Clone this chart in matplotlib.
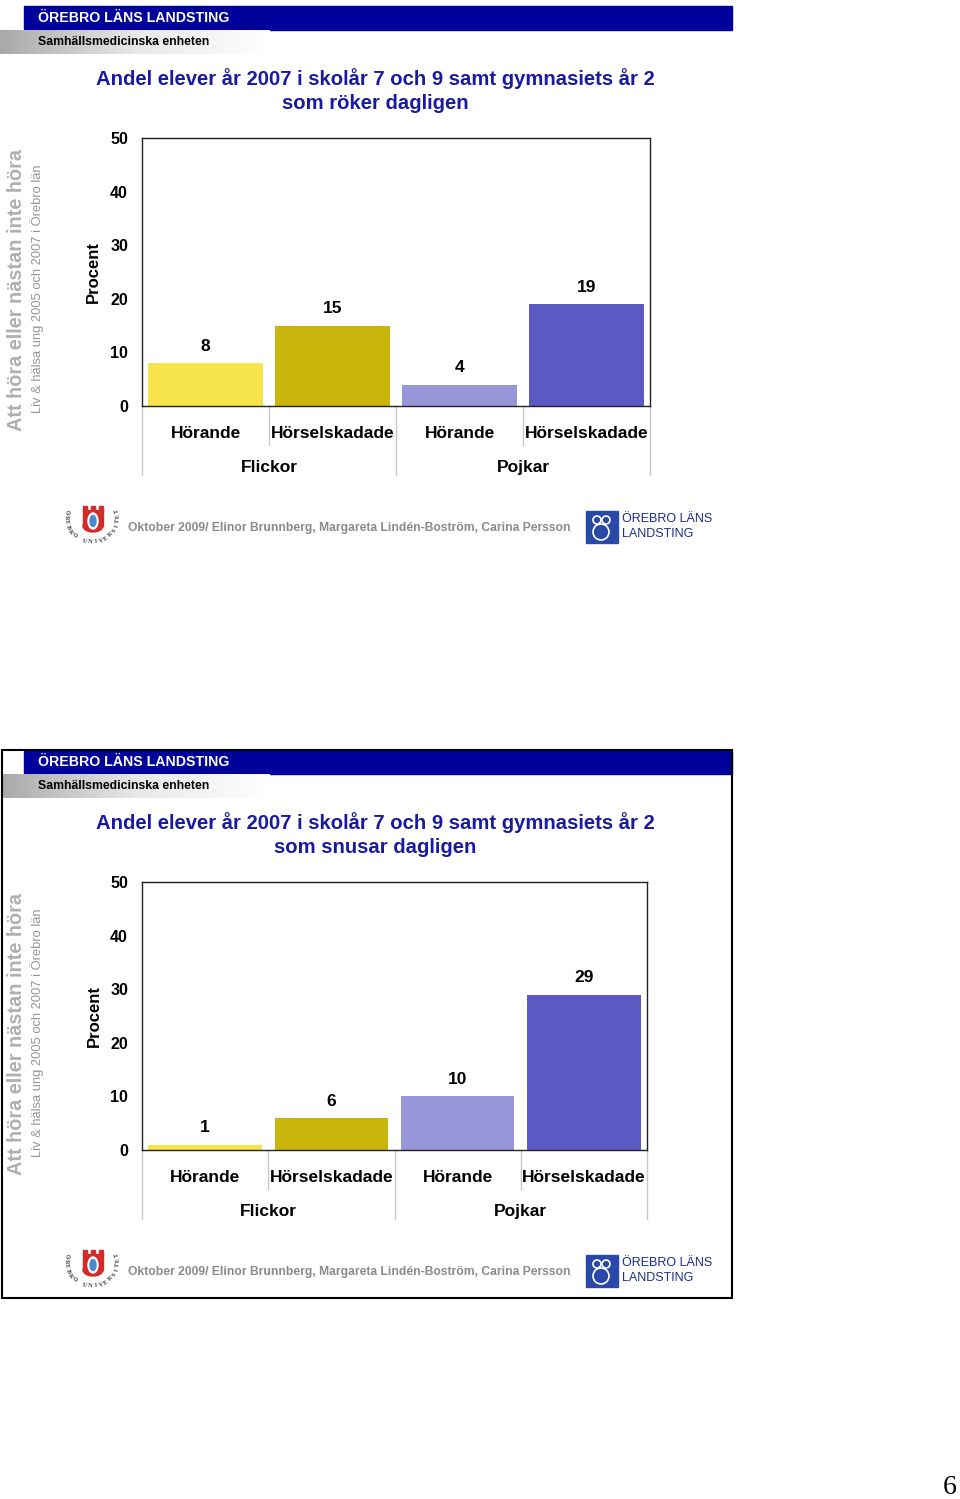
import numpy as np
import matplotlib
matplotlib.use('Agg')
import matplotlib.pyplot as plt
from matplotlib.patches import Rectangle, Ellipse, Circle
from matplotlib import transforms

plt.rcParams['font.family'] = ['Liberation Sans', 'DejaVu Sans']

# Data
categories = ['Hörande', 'Hörselskadade', 'Hörande', 'Hörselskadade']
groups = ['Flickor', 'Pojkar']
smoke_values = [8, 15, 4, 19]
snus_values = [1, 6, 10, 29]
bar_colors = ['#f7e34a', '#c9b50c', '#9696d8', '#5a5ac2']
y_ticks = [0, 10, 20, 30, 40, 50]

title_line1 = 'Andel elever år 2007 i skolår 7 och 9 samt gymnasiets år 2'
titles_line2 = ['som röker dagligen', 'som snusar dagligen']

W, H = 960, 1499
fig = plt.figure(figsize=(W / 100, H / 100), dpi=100)
fig.patch.set_facecolor('white')

bg = fig.add_axes([0, 0, 1, 1])
bg.set_xlim(0, W)
bg.set_ylim(H, 0)
bg.axis('off')


def px_rect(x, y, w, h):
    return [x / W, 1 - (y + h) / H, w / W, h / H]


def draw_logos(y0):
    # university logo (simplified shield)
    bg.add_patch(Rectangle((83, y0 + 510), 20, 16, color='#d42a2a'))
    bg.add_patch(Ellipse((93, y0 + 526), 20, 12, color='#d42a2a'))
    for bx in [83, 91, 99]:
        bg.add_patch(Rectangle((bx, y0 + 506), 4, 5, color='#d42a2a'))
    bg.add_patch(Ellipse((93, y0 + 521), 10, 16, color='white'))
    bg.add_patch(Ellipse((93, y0 + 521), 6, 11, color='#4a8ad0'))
    txt = 'ÖREBRO UNIVERSITET'
    angles = np.linspace(165, 378, len(txt))
    for ch, a in zip(txt, angles):
        r = np.deg2rad(a)
        cx = 92 + 26 * np.cos(r)
        cy = y0 + 518 - 24 * np.sin(r)
        bg.text(cx, cy, ch, fontsize=4.3, family='Liberation Serif', fontweight='bold',
                rotation=a - 270, ha='center', va='center', color='#333333')
    bg.text(128, y0 + 528, 'Oktober 2009/ Elinor Brunnberg, Margareta Lindén-Boström, Carina Persson',
            fontsize=8.7, fontweight='bold', color='#8a8a8a', va='center', ha='left')
    # landsting logo (simplified)
    bg.add_patch(Rectangle((586, y0 + 511), 32, 32, color='#2a48a8'))
    for (cx, cy, rr) in [(597, 520, 4), (606, 520, 4), (601, 532, 8)]:
        bg.add_patch(Circle((cx, y0 + cy), rr, fill=False, ec='white', lw=1.2))
    bg.text(622, y0 + 519, 'ÖREBRO LÄNS', fontsize=9, color='#1c2d8a', va='center', ha='left')
    bg.text(622, y0 + 534, 'LANDSTING', fontsize=9, color='#1c2d8a', va='center', ha='left')


def draw_slide(y0, values, line2, right, border):
    if border:
        bg.add_patch(Rectangle((2, y0 + 6), 730, 548, fill=False, ec='black', lw=1.5, zorder=5))
    # header bar
    bg.add_patch(Rectangle((24, y0 + 6), 708, 24, color='#00009a'))
    bg.text(38, y0 + 18, 'ÖREBRO LÄNS LANDSTING', color='white', fontsize=10.2,
            fontweight='bold', va='center', ha='left')
    # grey gradient band
    grad = np.linspace(0, 1, 256).reshape(1, -1)
    x_start = 2 if border else 0
    bg.imshow(grad, cmap=matplotlib.colors.LinearSegmentedColormap.from_list(
        'g', ['#a9a9a9', '#e8e8e8', '#ffffff']), aspect='auto',
        extent=(x_start, 270, y0 + 54, y0 + 30), zorder=1)
    bg.text(38, y0 + 42, 'Samhällsmedicinska enheten', color='black', fontsize=8.8,
            fontweight='bold', va='center', ha='left', zorder=2)
    # title
    bg.text(375, y0 + 79, title_line1, color='#1a1aa0', fontsize=14.6, fontweight='bold',
            ha='center', va='center')
    bg.text(375, y0 + 103, line2, color='#1a1aa0', fontsize=14.6, fontweight='bold',
            ha='center', va='center')
    # side texts
    bg.text(17, y0 + 290, 'Att höra eller nästan inte höra', rotation=90, color='#b0b0b0',
            fontsize=14.3, fontweight='bold', ha='center', va='center')
    bg.text(37, y0 + 289, 'Liv & hälsa ung 2005 och 2007 i Örebro län', rotation=90,
            color='#959595', fontsize=9.3, ha='center', va='center')

    draw_logos(y0)

    # chart
    ax = fig.add_axes(px_rect(142, y0 + 138, right - 142, 268))
    x = np.arange(len(values))
    ax.bar(x, values, width=0.9, color=bar_colors)
    ax.set_xlim(-0.5, len(values) - 0.5)
    ax.set_ylim(0, 50)
    ax.set_yticks(y_ticks)
    ax.tick_params(axis='y', length=0, pad=10, labelsize=11.5)
    for lab in ax.get_yticklabels():
        lab.set_fontweight('bold')
    ax.set_xticks([])
    for s in ax.spines.values():
        s.set_color('#222222')
        s.set_linewidth(1)
    ax.set_ylabel('Procent', fontsize=12, fontweight='bold')
    ax.yaxis.set_label_coords(-0.080, 0.5)

    for xi, v in zip(x, values):
        ax.annotate(str(v), (xi, v), xytext=(0, 12), textcoords='offset points',
                    ha='center', va='center', fontsize=12.5, fontweight='bold')

    trans = transforms.blended_transform_factory(ax.transData, ax.transAxes)
    for xi, c in zip(x, categories):
        ax.text(xi, -0.104, c, transform=trans, ha='center', va='center',
                fontsize=12.5, fontweight='bold')
    for gi, g in enumerate(groups):
        ax.text(gi * 2 + 0.5, -0.228, g, transform=trans, ha='center', va='center',
                fontsize=12.5, fontweight='bold')
    for sx in [0.5, 2.5]:
        ax.plot([sx, sx], [0, -0.146], transform=trans, color='#c8c8c8', lw=1, clip_on=False)
    for sx in [-0.5, 1.5, 3.5]:
        ax.plot([sx, sx], [0, -0.257], transform=trans, color='#c8c8c8', lw=1, clip_on=False)


draw_slide(0, smoke_values, titles_line2[0], 650, False)
draw_slide(744, snus_values, titles_line2[1], 647, True)

bg.text(950, 1487, '6', family='Liberation Serif', fontsize=20, ha='center', va='center')

fig.savefig('out.png', dpi=100)
